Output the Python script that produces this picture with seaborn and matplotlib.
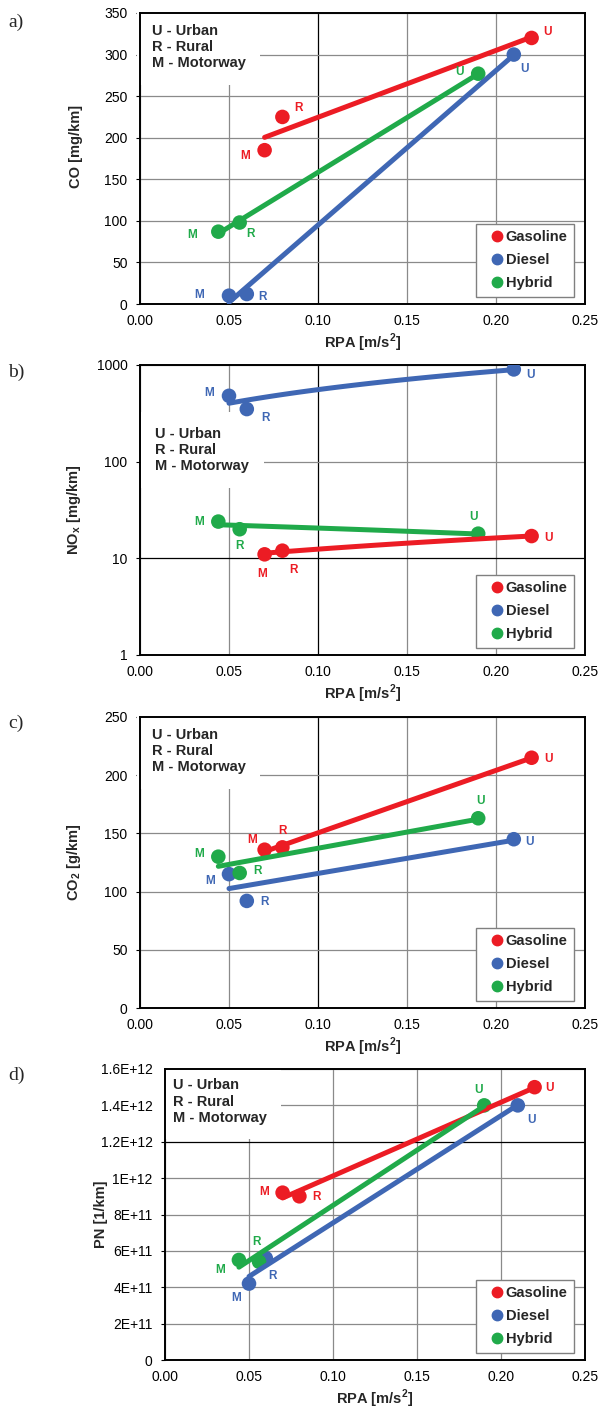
import numpy as np
import pandas as pd
import matplotlib
matplotlib.use("Agg")
import matplotlib.pyplot as plt
from matplotlib.lines import Line2D
import seaborn as sns

# ---------------- data ----------------
fuels = ["Gasoline", "Diesel", "Hybrid"]
segments = ["M", "R", "U"]

rpa_gasoline = [0.070, 0.080, 0.220]
rpa_diesel = [0.050, 0.060, 0.210]
rpa_hybrid = [0.044, 0.056, 0.190]

co_gasoline = [185, 225, 320]
co_diesel = [10, 12, 300]
co_hybrid = [87, 98, 277]

nox_gasoline = [11, 12, 17]
nox_diesel = [480, 350, 900]
nox_hybrid = [24, 20, 18]

co2_gasoline = [136, 138, 215]
co2_diesel = [115, 92, 145]
co2_hybrid = [130, 116, 163]

pn_gasoline = [9.2e11, 9.0e11, 1.5e12]
pn_diesel = [4.2e11, 5.6e11, 1.4e12]
pn_hybrid = [5.5e11, 5.4e11, 1.4e12]

x_ticks = [0.00, 0.05, 0.10, 0.15, 0.20, 0.25]
x_ticklabels = ["0.00", "0.05", "0.10", "0.15", "0.20", "0.25"]
co_ticks = [0, 50, 100, 150, 200, 250, 300, 350]
nox_ticks = [1, 10, 100, 1000]
nox_ticklabels = ["1", "10", "100", "1000"]
co2_ticks = [0, 50, 100, 150, 200, 250]
pn_ticks = [0, 2e11, 4e11, 6e11, 8e11, 1e12, 1.2e12, 1.4e12, 1.6e12]
pn_ticklabels = ["0", "2E+11", "4E+11", "6E+11", "8E+11", "1E+12",
                 "1.2E+12", "1.4E+12", "1.6E+12"]

# ---------------- style ----------------
colors = {"Gasoline": "#EC1C24", "Diesel": "#3F67B4", "Hybrid": "#20AA4A"}

sns.set_theme(style="white")
plt.rcParams["font.family"] = ["Liberation Sans", "DejaVu Sans"]
plt.rcParams["mathtext.fontset"] = "custom"
plt.rcParams["mathtext.rm"] = "Liberation Sans"
plt.rcParams["mathtext.bf"] = "Liberation Sans:bold"

fig = plt.figure(figsize=(6.0, 14.08), dpi=100)

H = 1408.0
W = 600.0


def ax_rect(left, right, top, bottom):
    return [left / W, 1 - bottom / H, (right - left) / W, (bottom - top) / H]


def build_df(rpa, vals):
    rows = []
    for f in fuels:
        for s, x, y in zip(segments, rpa[f], vals[f]):
            rows.append({"Fuel": f, "Segment": s, "RPA": x, "Value": y})
    return pd.DataFrame(rows)


rpa = {"Gasoline": rpa_gasoline, "Diesel": rpa_diesel, "Hybrid": rpa_hybrid}

panels = [
    dict(tag="a)", rect=ax_rect(140, 585, 13, 304),
         vals={"Gasoline": co_gasoline, "Diesel": co_diesel, "Hybrid": co_hybrid},
         ylabel="CO [mg/km]", ylim=(0, 350), yticks=co_ticks,
         yticklabels=[str(t) for t in co_ticks], log=False,
         box=(0.027, 0.962), ylab_y=0.54,
         offs={"Gasoline": [(-19, -6), (16, 9), (16, 6)],
               "Diesel": [(-30, 1), (16, -3), (11, -14)],
               "Hybrid": [(-26, -3), (11, -11), (-19, 2)]},
         dark_x=[2], dark_y=[]),
    dict(tag="b)", rect=ax_rect(140, 585, 365, 655),
         vals={"Gasoline": nox_gasoline, "Diesel": nox_diesel, "Hybrid": nox_hybrid},
         ylabel=r"NO$_{\mathbf{x}}$ [mg/km]", ylim=(1, 1000), yticks=nox_ticks,
         yticklabels=nox_ticklabels, log=True,
         box=(0.034, 0.786), ylab_y=0.5,
         offs={"Gasoline": [(-2, -20), (11, -19), (17, -2)],
               "Diesel": [(-20, 3), (19, -9), (17, -6)],
               "Hybrid": [(-19, 0), (0, -17), (-5, 17)]},
         dark_x=[2], dark_y=[1]),
    dict(tag="c)", rect=ax_rect(140, 585, 717, 1008),
         vals={"Gasoline": co2_gasoline, "Diesel": co2_diesel, "Hybrid": co2_hybrid},
         ylabel=r"CO$_{\mathbf{2}}$ [g/km]", ylim=(0, 250), yticks=co2_ticks,
         yticklabels=[str(t) for t in co2_ticks], log=False,
         box=(0.027, 0.962), ylab_y=0.5,
         offs={"Gasoline": [(-12, 10), (0, 16), (17, -1)],
               "Diesel": [(-19, -7), (18, -1), (16, -3)],
               "Hybrid": [(-19, 3), (18, 2), (2, 17)]},
         dark_x=[2], dark_y=[]),
    dict(tag="d)", rect=ax_rect(165, 585, 1069, 1360),
         vals={"Gasoline": pn_gasoline, "Diesel": pn_diesel, "Hybrid": pn_hybrid},
         ylabel="PN [1/km]", ylim=(0, 1.6e12), yticks=pn_ticks,
         yticklabels=pn_ticklabels, log=False,
         box=(0.019, 0.968), ylab_y=0.5,
         offs={"Gasoline": [(-18, 1), (17, -1), (15, -1)],
               "Diesel": [(-13, -14), (7, -18), (14, -15)],
               "Hybrid": [(-19, -10), (-3, 20), (-6, 15)]},
         dark_x=[], dark_y=[6]),
]

tag_y = [22, 372, 723, 1075]

for p, ty in zip(panels, tag_y):
    ax = fig.add_axes(p["rect"])
    df = build_df(rpa, p["vals"])
    if p["log"]:
        ax.set_yscale("log")

    sns.scatterplot(data=df, x="RPA", y="Value", hue="Fuel", hue_order=fuels,
                    palette=colors, s=110, linewidth=0, legend=False,
                    ax=ax, zorder=3)
    for f in fuels:
        sns.regplot(data=df[df["Fuel"] == f], x="RPA", y="Value", ci=None,
                    scatter=False, truncate=True, color=colors[f], ax=ax,
                    line_kws=dict(lw=3.6, zorder=4, solid_capstyle="round"))

    for _, r in df.iterrows():
        i = segments.index(r["Segment"])
        dx, dy = p["offs"][r["Fuel"]][i]
        ax.annotate(r["Segment"], (r["RPA"], r["Value"]), xytext=(dx, dy),
                    textcoords="offset pixels", ha="center", va="center",
                    color=colors[r["Fuel"]], fontsize=8.5, fontweight="bold",
                    zorder=5)

    ax.set_xlim(0, 0.25)
    ax.set_ylim(*p["ylim"])
    ax.set_xticks(x_ticks)
    ax.set_xticklabels(x_ticklabels)
    ax.set_yticks(p["yticks"])
    ax.set_yticklabels(p["yticklabels"])
    ax.minorticks_off()
    ax.tick_params(axis="both", labelsize=10, colors="black", direction="out")
    ax.tick_params(axis="x", length=2, width=0.8, pad=5)
    ax.tick_params(axis="y", length=3, width=0.8, pad=6, left=True)

    ax.set_axisbelow(True)
    ax.grid(True, color="#8a8a8a", lw=0.9)
    for k in p["dark_x"]:
        ax.get_xgridlines()[k].set_color("black")
    for k in p["dark_y"]:
        ax.get_ygridlines()[k].set_color("black")

    for sp in ax.spines.values():
        sp.set_visible(True)
        sp.set_color("black")
        sp.set_linewidth(1.4)

    ax.set_xlabel(r"RPA [m/s$^{\mathbf{2}}$]", fontsize=10.5, fontweight="bold")
    ax.set_ylabel(p["ylabel"], fontsize=10.5, fontweight="bold")
    axw = p["rect"][2] * W
    axh = p["rect"][3] * H
    ax.yaxis.set_label_coords(-57.0 / axw, p["ylab_y"])
    ax.xaxis.set_label_coords(0.5, -28.0 / axh)

    ax.text(p["box"][0], p["box"][1], "U - Urban\nR - Rural\nM - Motorway",
            transform=ax.transAxes, ha="left", va="top", fontsize=10.5,
            fontweight="bold", linespacing=1.2, zorder=1.5,
            bbox=dict(boxstyle="square,pad=1.0", facecolor="white",
                      edgecolor="none"))

    handles = [Line2D([], [], marker="o", ls="", color=colors[f],
                      markersize=7.5) for f in fuels]
    leg = ax.legend(handles, fuels, loc="lower right",
                    bbox_to_anchor=(1 - 11.0 / axw, 7.0 / axh),
                    frameon=True, fancybox=False, framealpha=1,
                    edgecolor="#808080", facecolor="white",
                    handlelength=1.9, handletextpad=-0.35, labelspacing=0.62,
                    borderpad=0.45, borderaxespad=0,
                    prop=dict(weight="bold", size=10.5))
    leg.get_frame().set_linewidth(1.0)
    leg.set_zorder(6)

    fig.text(8.0 / W, 1 - ty / H, p["tag"], ha="left", va="center",
             fontsize=14, family=["Liberation Serif", "DejaVu Serif"])

fig.savefig("out.png", dpi=100)
